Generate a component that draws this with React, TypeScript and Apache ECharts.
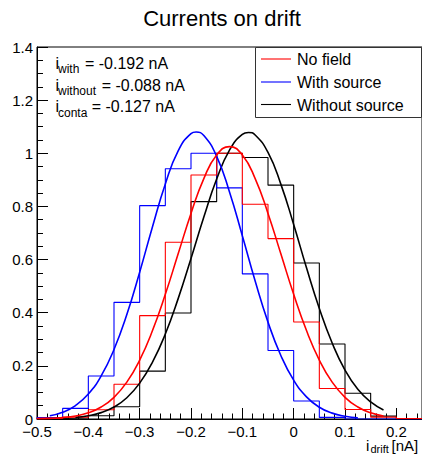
import React, { useEffect, useRef } from "react";
import * as echarts from "echarts";

// Histogram bin edges (nA) and normalised bin contents
const binEdges = [-0.5, -0.45, -0.4, -0.35, -0.3, -0.25, -0.2, -0.15, -0.1, -0.05, 0, 0.05, 0.1, 0.15, 0.2, 0.25];
const noFieldHist = [0.003, 0.007, 0.035, 0.131, 0.389, 0.665, 0.918, 1.0, 0.808, 0.679, 0.365, 0.115, 0.036, 0.007, 0.002];
const withSourceHist = [0.005, 0.04, 0.162, 0.439, 0.803, 0.942, 1.0, 0.87, 0.546, 0.258, 0.068, 0.006, 0, 0, 0];
const withoutSourceHist = [0.002, 0.004, 0.012, 0.046, 0.18, 0.399, 0.818, 1.0, 0.984, 0.88, 0.587, 0.282, 0.097, 0.011, 0];

// Fit curves
const noFieldFitX = [-0.5, -0.475, -0.45, -0.425, -0.4, -0.375, -0.35, -0.325, -0.3, -0.275, -0.25, -0.225, -0.2, -0.175, -0.15, -0.125, -0.1, -0.075, -0.05, -0.025, 0, 0.025, 0.05, 0.075, 0.1, 0.125, 0.15, 0.175];
const noFieldFitY = [0.0009, 0.0022, 0.0052, 0.0114, 0.0234, 0.045, 0.0816, 0.1387, 0.2217, 0.3328, 0.4692, 0.6217, 0.7737, 0.9046, 0.9934, 1.025, 0.9934, 0.9046, 0.7737, 0.6217, 0.4692, 0.3328, 0.2217, 0.1387, 0.0816, 0.045, 0.0234, 0.0114];
const withSourceFitX = [-0.475, -0.45, -0.425, -0.4, -0.375, -0.35, -0.325, -0.3, -0.275, -0.25, -0.225, -0.2, -0.19, -0.175, -0.15, -0.125, -0.1, -0.075, -0.05, -0.025, 0, 0.025, 0.05, 0.075, 0.1, 0.125];
const withSourceFitY = [0.012, 0.0255, 0.0507, 0.0938, 0.162, 0.2616, 0.393, 0.5525, 0.7237, 0.8847, 1.009, 1.074, 1.08, 1.0666, 0.9884, 0.8546, 0.6895, 0.519, 0.3646, 0.239, 0.1462, 0.0834, 0.0444, 0.0221, 0.0102, 0.0044];
const withoutSourceFitX = [-0.425, -0.4, -0.375, -0.35, -0.325, -0.3, -0.275, -0.25, -0.225, -0.2, -0.175, -0.15, -0.125, -0.1, -0.088, -0.075, -0.05, -0.025, 0, 0.025, 0.05, 0.075, 0.1, 0.125, 0.15, 0.175];
const withoutSourceFitY = [0.0056, 0.012, 0.024, 0.045, 0.08, 0.135, 0.214, 0.32, 0.453, 0.604, 0.76, 0.903, 1.012, 1.071, 1.078, 1.069, 1.003, 0.884, 0.732, 0.569, 0.416, 0.286, 0.184, 0.112, 0.064, 0.034];

const seriesNames = ["No field", "With source", "Without source"];
const seriesColors = ["#ff0000", "#0000ff", "#000000"];
const annotationSubs = ["with", "without", "conta"];
const annotationValues = ["= -0.192 nA", "= -0.088 nA", "= -0.127 nA"];
const titleText = "Currents on drift";

const FONT = "'Liberation Sans', Arial, Helvetica, sans-serif";

function histPoints(edges: number[], vals: number[]) {
  const pts: number[][] = [[edges[0], 0]];
  for (let i = 0; i < vals.length; i++) {
    pts.push([edges[i], vals[i]]);
    pts.push([edges[i + 1], vals[i]]);
  }
  pts.push([edges[edges.length - 1], 0]);
  return pts;
}

function zip(xs: number[], ys: number[]) {
  return xs.map((x, i) => [x, ys[i]]);
}

export default function App() {
  const ref = useRef<HTMLDivElement>(null);
  useEffect(() => {
    if (!ref.current) return;
    const chart = echarts.init(ref.current, undefined, { renderer: "svg" });

    const hists = [noFieldHist, withSourceHist, withoutSourceHist];
    const fits = [
      zip(noFieldFitX, noFieldFitY),
      zip(withSourceFitX, withSourceFitY),
      zip(withoutSourceFitX, withoutSourceFitY),
    ];
    const drawOrder = [2, 1, 0];
    const series: any[] = [];
    drawOrder.forEach((k) => {
      series.push({
        type: "line",
        name: seriesNames[k] + " hist",
        data: histPoints(binEdges, hists[k]),
        symbol: "none",
        lineStyle: { color: seriesColors[k], width: 1.1 },
        xAxisIndex: 0,
        yAxisIndex: 0,
        z: 2,
      });
    });
    drawOrder.forEach((k) => {
      series.push({
        type: "line",
        name: seriesNames[k] + " fit",
        data: fits[k],
        symbol: "none",
        smooth: 0.5,
        lineStyle: { color: seriesColors[k], width: 1.6 },
        xAxisIndex: 0,
        yAxisIndex: 0,
        z: 3,
      });
    });

    const graphics: any[] = [];
    graphics.push({
      type: "text",
      x: 222,
      y: 18,
      style: { text: titleText, font: `22px ${FONT}`, fill: "#000", align: "center", verticalAlign: "middle" },
    });
    const rowBase = [68.3, 90.4, 111.7];
    const valX = [85, 101.7, 91.7];
    for (let r = 0; r < 3; r++) {
      graphics.push({
        type: "text", x: 55.5, y: rowBase[r] - 5.3,
        style: { text: "i", font: `16px ${FONT}`, fill: "#000", align: "left", verticalAlign: "middle" },
      });
      graphics.push({
        type: "text", x: 58, y: rowBase[r] + 1,
        style: { text: annotationSubs[r], font: `12px ${FONT}`, fill: "#000", align: "left", verticalAlign: "middle" },
      });
      graphics.push({
        type: "text", x: valX[r], y: rowBase[r] - 5.3,
        style: { text: annotationValues[r], font: `16px ${FONT}`, fill: "#000", align: "left", verticalAlign: "middle" },
      });
    }
    // legend box
    graphics.push({
      type: "rect",
      shape: { x: 255.5, y: 47.5, width: 166, height: 70 },
      style: { fill: "#fff", stroke: "#333", lineWidth: 1 },
      z: 10,
    });
    const legY = [59, 82, 104.5];
    const legTextY = [59.7, 82, 105.4];
    for (let i = 0; i < 3; i++) {
      graphics.push({
        type: "line",
        shape: { x1: 261, y1: legY[i], x2: 291, y2: legY[i] },
        style: { stroke: seriesColors[i], lineWidth: 1.1 },
        z: 11,
      });
      graphics.push({
        type: "text", x: 297, y: legTextY[i],
        style: { text: seriesNames[i], font: `16px ${FONT}`, fill: "#000", align: "left", verticalAlign: "middle" },
        z: 11,
      });
    }
    // x axis title
    graphics.push({
      type: "text", x: 366, y: 445.5,
      style: { text: "i", font: `15px ${FONT}`, fill: "#000", align: "left", verticalAlign: "middle" },
    });
    graphics.push({
      type: "text", x: 370.5, y: 448.5,
      style: { text: "drift", font: `11px ${FONT}`, fill: "#000", align: "left", verticalAlign: "middle" },
    });
    graphics.push({
      type: "text", x: 391.5, y: 445.5,
      style: { text: "[nA]", font: `15px ${FONT}`, fill: "#000", align: "left", verticalAlign: "middle" },
    });

    const axisLabelStyle = { color: "#000", fontSize: 15, fontFamily: FONT, lineHeight: 12 };

    chart.setOption({
      animation: false,
      grid: { left: 37, right: 0, top: 47, bottom: 35, show: true, borderColor: "#000", borderWidth: 1 },
      xAxis: [
        {
          type: "value",
          min: -0.5,
          max: 0.25,
          interval: 0.1,
          position: "bottom",
          splitLine: { show: false },
          axisLine: { show: true, onZero: false, lineStyle: { color: "#000", width: 1 } },
          axisTick: { show: true, inside: true, length: 11, lineStyle: { color: "#000" } },
          axisLabel: {
            ...axisLabelStyle,
            margin: 6,
            showMaxLabel: false,
            formatter: (v: number) => {
              const s = (Math.round(v * 10) / 10).toString();
              return s.replace("-", "\u2212");
            },
          },
        },
        {
          type: "value",
          min: -0.5,
          max: 0.25,
          interval: 0.02,
          position: "bottom",
          offset: 0,
          splitLine: { show: false },
          axisLine: { show: false, onZero: false },
          axisTick: { show: true, inside: true, length: 5.5, lineStyle: { color: "#000" } },
          axisLabel: { show: false },
        },
      ],
      yAxis: {
        type: "value",
        min: 0,
        max: 1.4,
        interval: 0.2,
        splitLine: { show: false },
        axisLine: { show: true, onZero: false, lineStyle: { color: "#000", width: 1 } },
        axisTick: { show: true, inside: true, length: 11, lineStyle: { color: "#000" } },
        minorTick: { show: true, splitNumber: 4, length: 6, lineStyle: { color: "#000" } },
        axisLabel: { ...axisLabelStyle, margin: 4 },
      },
      series,
      graphic: graphics,
    });
    return () => chart.dispose();
  }, []);
  return <div ref={ref} style={{ position: "absolute", left: 0, top: 0, width: 422, height: 454 }} />;
}
